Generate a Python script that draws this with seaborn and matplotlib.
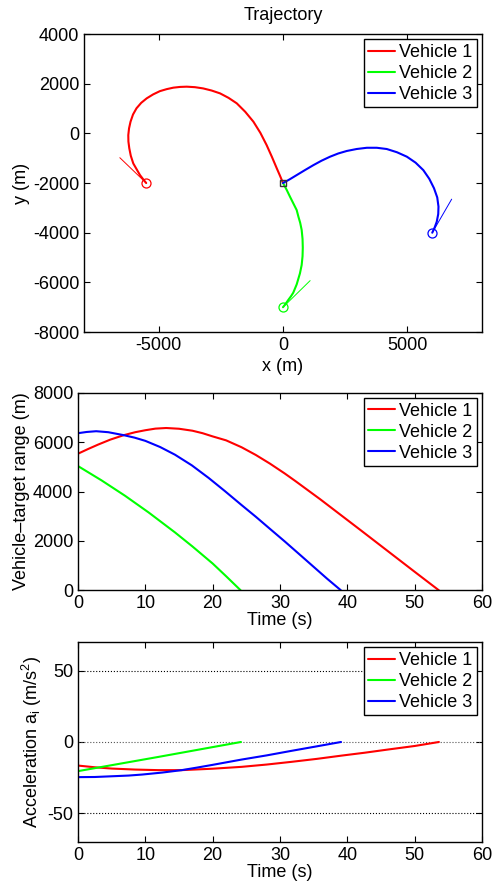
import numpy as np
import pandas as pd
import matplotlib
matplotlib.use("Agg")
import matplotlib.pyplot as plt
import seaborn as sns

# ---------------- data ----------------
labels = ["Vehicle 1", "Vehicle 2", "Vehicle 3"]
colors = ["#ff0000", "#00ff00", "#0000ff"]

# trajectories (m)
v1_x = [-5500, -5620, -5750, -6020, -6120, -6180, -6215, -6220, -6190, -6130, -6030, -5890, -5700,
        -5480, -5220, -4950, -4680, -4410, -4140, -3870, -3540, -3210, -2870, -2530, -2190, -1860,
        -1520, -1190, -910, -660, -445, -250, -120, 0]
v1_y = [-2000, -1850, -1680, -1210, -900, -600, -330, -70, 200, 470, 760, 1010, 1230,
        1410, 1570, 1700, 1780, 1840, 1870, 1880, 1860, 1810, 1725, 1610, 1430, 1210,
        870, 470, 20, -470, -950, -1410, -1710, -2000]
v2_x = [0, 100, 210, 320, 410, 550, 680, 750, 785, 795, 785, 750, 690, 620, 550, 410, 280, 150, 70, 0]
v2_y = [-7000, -6870, -6710, -6560, -6420, -6080, -5640, -5300, -4950, -4600, -4250, -3890, -3600,
        -3360, -3090, -2810, -2550, -2280, -2130, -2000]
v3_x = [6000, 6100, 6180, 6240, 6250, 6200, 6070, 5880, 5640, 5330, 4980, 4580, 4170, 3770, 3370,
        2960, 2560, 2220, 1890, 1550, 1220, 880, 550, 270, 0]
v3_y = [-4000, -3780, -3560, -3250, -2950, -2580, -2210, -1830, -1480, -1180, -940, -760, -630, -580,
        -580, -630, -710, -810, -940, -1100, -1280, -1480, -1680, -1850, -2000]

# initial heading segments
h1_x = [-5500, -6560]
h1_y = [-2000, -980]
h2_x = [0, 1090]
h2_y = [-7000, -5930]
h3_x = [6000, 6780]
h3_y = [-4000, -2650]

target_x = [0]
target_y = [-2000]

# vehicle-target range (m) vs time (s)
r1_t = [0, 1.5, 3, 4.8, 6.8, 8.5, 10, 11.5, 13.1, 15, 17, 18.5, 20, 22, 24.3, 26.4, 28.5, 30.7,
        32.3, 34, 36, 38.4, 42, 45, 50, 53.6]
r1_v = [5530, 5720, 5900, 6100, 6280, 6400, 6480, 6545, 6570, 6540, 6460, 6360, 6230, 6070, 5790,
        5480, 5130, 4730, 4420, 4080, 3680, 3180, 2430, 1800, 750, 0]
r2_t = [0, 3.5, 7, 10.5, 14.4, 17, 20, 22, 24.16]
r2_v = [5030, 4450, 3825, 3150, 2345, 1775, 1085, 570, 0]
r3_t = [0, 1.3, 2.7, 4.5, 6.8, 8.4, 10, 12.2, 14.4, 16.9, 19.4, 21.8, 24.3, 26.4, 28.5, 30.7,
        33, 35, 37, 39.05]
r3_v = [6360, 6410, 6440, 6400, 6280, 6180, 6050, 5800, 5490, 5060, 4550, 4020, 3450, 2980, 2490,
        1980, 1430, 950, 470, 0]

# acceleration (m/s^2) vs time (s)
a1_t = [0, 2.5, 5, 8.5, 11.9, 15.4, 20, 24.3, 28, 31.7, 35.5, 39.2, 42.6, 46, 50, 53.6]
a1_v = [-16.5, -17.7, -18.6, -19.3, -19.7, -19.7, -18.7, -17.4, -15.8, -13.9, -11.8, -9.5, -7.5,
        -5.3, -2.8, 0]
a2_t = [0, 12, 24.2]
a2_v = [-20.4, -10.4, 0]
a3_t = [0, 2.5, 5, 7.5, 9.5, 12.5, 15.4, 17.7, 20, 22.2, 24.3, 28, 31.7, 35.4, 39.06]
a3_v = [-24.6, -24.5, -24.0, -23.5, -22.8, -21.4, -19.7, -17.9, -16.0, -14.1, -12.3, -9.4, -6.2,
        -3.1, 0]

acc_ref = [50, 0, -50]

# ---------------- style ----------------
sns.set_theme(style="white")
plt.rcParams.update({
    "font.family": ["Liberation Sans", "DejaVu Sans"],
    "font.size": 13,
    "axes.labelsize": 13,
    "axes.titlesize": 13,
    "xtick.labelsize": 13,
    "ytick.labelsize": 13,
    "legend.fontsize": 13,
    "axes.unicode_minus": False,
    "xtick.direction": "in",
    "ytick.direction": "in",
    "xtick.top": True,
    "ytick.right": True,
    "xtick.bottom": True,
    "ytick.left": True,
    "xtick.major.size": 4,
    "ytick.major.size": 4,
    "xtick.major.width": 0.8,
    "ytick.major.width": 0.8,
    "axes.edgecolor": "black",
    "axes.linewidth": 1.0,
    "axes.labelcolor": "black",
    "xtick.color": "black",
    "ytick.color": "black",
    "text.color": "black",
    "mathtext.fontset": "custom",
    "mathtext.rm": "Liberation Sans",
    "mathtext.it": "Liberation Sans:italic",
})

fig = plt.figure(figsize=(4.98, 8.84), dpi=100)
ax1 = fig.add_axes([0.1687, 0.6244, 0.7992, 0.3371])
ax2 = fig.add_axes([0.1566, 0.3322, 0.8113, 0.2236])
ax3 = fig.add_axes([0.1566, 0.0475, 0.8113, 0.2263])


def legend(ax):
    leg = ax.legend(loc="upper right", frameon=True, fancybox=False, framealpha=1,
                    edgecolor="black", borderpad=0.25, labelspacing=0.22,
                    handlelength=1.5, handletextpad=0.2, borderaxespad=0.3)
    leg.get_frame().set_linewidth(1.0)


# ---- trajectory ----
trajs = [(v1_x, v1_y), (v2_x, v2_y), (v3_x, v3_y)]
heads = [(h1_x, h1_y), (h2_x, h2_y), (h3_x, h3_y)]
for (tx, ty), (hx, hy), c, lab in zip(trajs, heads, colors, labels):
    df = pd.DataFrame({"x": tx, "y": ty})
    sns.lineplot(data=df, x="x", y="y", sort=False, estimator=None, color=c,
                 linewidth=1.5, label=lab, ax=ax1)
    sns.lineplot(x=hx, y=hy, sort=False, estimator=None, color=c, linewidth=0.7,
                 legend=False, ax=ax1)
    ax1.plot(tx[0], ty[0], marker="o", markersize=6.5, markerfacecolor="none",
             markeredgecolor=c, markeredgewidth=0.9, linestyle="none")
ax1.plot(target_x, target_y, marker="s", markersize=5, markerfacecolor="none",
         markeredgecolor="#333333", markeredgewidth=1.0, linestyle="none")
ax1.set_xlim(-8000, 8000)
ax1.set_ylim(-8000, 4000)
ax1.set_xticks([-5000, 0, 5000])
ax1.set_yticks(np.arange(-8000, 4001, 2000))
ax1.set_xlabel("x (m)", labelpad=3)
ax1.set_ylabel("y (m)", labelpad=2)
ax1.set_title("Trajectory", pad=10)
legend(ax1)

# ---- range ----
for t, v, c, lab in zip([r1_t, r2_t, r3_t], [r1_v, r2_v, r3_v], colors, labels):
    df = pd.DataFrame({"t": t, "r": v})
    sns.lineplot(data=df, x="t", y="r", color=c, linewidth=1.5, label=lab, ax=ax2)
ax2.set_xlim(0, 60)
ax2.set_ylim(0, 8000)
ax2.set_xticks(np.arange(0, 61, 10))
ax2.set_yticks(np.arange(0, 8001, 2000))
ax2.set_xlabel("Time (s)", labelpad=0)
ax2.set_ylabel("Vehicle\u2013target range (m)", labelpad=2)
legend(ax2)

# ---- acceleration ----
for yv, lc in zip(acc_ref, ["black", "#555555", "black"]):
    ax3.axhline(yv, color=lc, linestyle=":", linewidth=0.8, zorder=1)
for t, v, c, lab in zip([a1_t, a2_t, a3_t], [a1_v, a2_v, a3_v], colors, labels):
    df = pd.DataFrame({"t": t, "a": v})
    sns.lineplot(data=df, x="t", y="a", color=c, linewidth=1.5, label=lab, ax=ax3)
ax3.set_xlim(0, 60)
ax3.set_ylim(-70, 70)
ax3.set_xticks(np.arange(0, 61, 10))
ax3.set_yticks([-50, 0, 50])
ax3.set_xlabel("Time (s)", labelpad=0)
ax3.set_ylabel(r"Acceleration a$_\mathrm{i}$ (m/s$^\mathrm{2}$)", labelpad=2)
legend(ax3)

fig.savefig("out.png", dpi=100)
